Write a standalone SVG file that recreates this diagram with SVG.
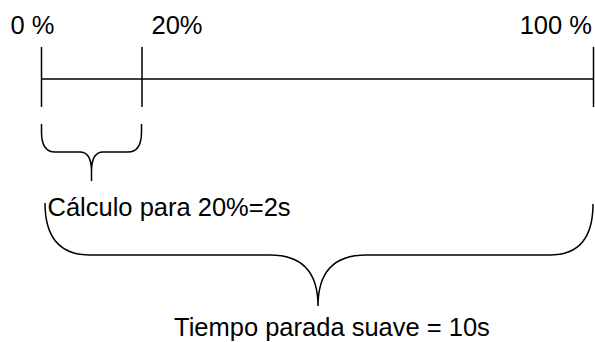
<svg xmlns="http://www.w3.org/2000/svg" width="595" height="342" viewBox="0 0 595 342">
<style>
.ln{fill:none;stroke:#000;stroke-width:1.5}
.t{font-family:"Liberation Sans",Arial,sans-serif;font-size:25.5px;fill:#000}
</style>
<rect width="595" height="342" fill="#fff"/>
<g id="connectors">
<path class="ln" d="M41.5 79H593"/>
<path class="ln" d="M41.5 47V107"/>
<path class="ln" d="M142 47V107"/>
<path class="ln" d="M593.5 47V107"/>
</g>
<g id="brace-small">
<path class="ln" d="M41.5 124V132Q41.5 152 55 152H80Q91 152 91.5 170V181M91.5 170Q92 152 103 152H128Q141.5 152 141.5 132V124"/>
</g>
<g id="brace-big">
<path class="ln" d="M45 203Q45 255 90 255H270Q318 255 318 306M318 306Q318 255 366 255H550Q593 255 593 204"/>
</g>
<g id="labels">
<text class="t" x="10.5" y="34">0 %</text>
<text class="t" x="151.5" y="34">20%</text>
<text class="t" x="592" y="34" text-anchor="end">100 %</text>
<text class="t" x="47.5" y="216">Cálculo para 20%=2s</text>
<text class="t" x="174" y="336">Tiempo parada suave = 10s</text>
</g>
</svg>
